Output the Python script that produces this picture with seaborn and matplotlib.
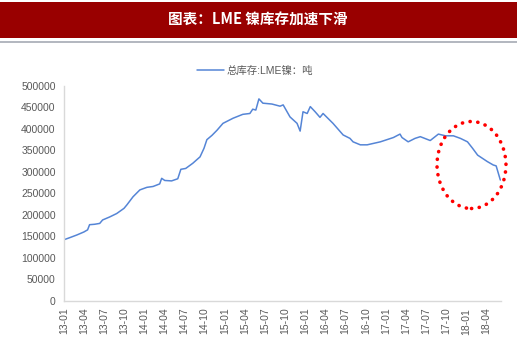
import pandas as pd
import numpy as np
import matplotlib
matplotlib.use('Agg')
import matplotlib.pyplot as plt
import matplotlib.dates as mdates
from matplotlib.patches import Rectangle, Ellipse
import seaborn as sns

# LME nickel total stock (tonnes)
dates = ['2013-01-01', '2013-01-28', '2013-02-28', '2013-04-01', '2013-04-18', '2013-04-27',
         '2013-05-20', '2013-06-12', '2013-06-25', '2013-07-27', '2013-08-28', '2013-09-30',
         '2013-10-13', '2013-11-10', '2013-12-11', '2014-01-12', '2014-02-09', '2014-03-11',
         '2014-03-20', '2014-04-03', '2014-05-04', '2014-06-01', '2014-06-15', '2014-07-07',
         '2014-08-08', '2014-09-10', '2014-09-28', '2014-10-11', '2014-11-03', '2014-11-26',
         '2014-12-23', '2015-02-07', '2015-03-23', '2015-04-24', '2015-05-07', '2015-05-21',
         '2015-06-04', '2015-06-22', '2015-08-02', '2015-09-08', '2015-09-22', '2015-10-23',
         '2015-11-24', '2015-12-08', '2015-12-21', '2016-01-09', '2016-01-23', '2016-02-14',
         '2016-03-07', '2016-03-21', '2016-05-05', '2016-06-20', '2016-07-21', '2016-08-04',
         '2016-09-06', '2016-10-07', '2016-12-06', '2017-02-03', '2017-03-05', '2017-03-14',
         '2017-04-11', '2017-05-12', '2017-06-05', '2017-07-20', '2017-08-26', '2017-09-27',
         '2017-11-02', '2017-12-04', '2018-01-05', '2018-01-28', '2018-02-20', '2018-04-05',
         '2018-05-02', '2018-05-15', '2018-06-03']
stock = [142000, 147000, 153000, 160000, 165000, 177000,
         178000, 180000, 188000, 195000, 203000, 215000,
         223000, 242000, 258000, 264000, 266000, 272000,
         285000, 280000, 279000, 284000, 306000, 308000,
         320000, 335000, 355000, 375000, 385000, 397000,
         413000, 425000, 434000, 436000, 446000, 444000,
         470000, 460000, 458000, 453000, 456000, 428000,
         413000, 395000, 440000, 436000, 452000, 440000,
         427000, 436000, 413000, 386000, 378000, 370000,
         363000, 363000, 370000, 380000, 388000, 380000,
         370000, 378000, 382000, 373000, 388000, 384000,
         384000, 378000, 370000, 355000, 339000, 324000,
         316000, 314000, 281000]
series_name = '总库存:LME镍：吨'
title = '图表：LME 镍库存加速下滑'

df = pd.DataFrame({'date': pd.to_datetime(dates), series_name: stock})

sns.set_style('white')
plt.rcParams['font.family'] = ['Liberation Sans', 'Noto Sans CJK SC', 'DejaVu Sans']

fig = plt.figure(figsize=(5.2, 3.51), dpi=100)
ax = fig.add_axes([64 / 520, 1 - 300.7 / 351, (501 - 64) / 520, (300.7 - 86) / 351])

sns.lineplot(data=df, x='date', y=series_name, ax=ax, color='#5585d6', lw=1.1,
             label=series_name, legend=False)

ax.set_ylim(0, 500000)
ax.set_xlim(pd.Timestamp('2013-01-01'), pd.Timestamp('2018-06-06'))
ax.set_yticks(np.arange(0, 500001, 50000))
ax.xaxis.set_major_locator(mdates.MonthLocator(bymonth=[1, 4, 7, 10]))
ax.xaxis.set_major_formatter(mdates.DateFormatter('%y-%m'))
ax.set_xlabel('')
ax.set_ylabel('')

for s in ['top', 'right']:
    ax.spines[s].set_visible(False)
for s in ['left', 'bottom']:
    ax.spines[s].set_color('#d9d9d9')
    ax.spines[s].set_linewidth(1.0)
ax.tick_params(axis='both', direction='out', length=3, width=0.8, color='#d9d9d9',
               labelcolor='#595959', labelsize=7.5, pad=2)
ax.tick_params(axis='y', pad=3)
ax.tick_params(axis='x', labelrotation=90)
ax.grid(False)

fig.legend(*ax.get_legend_handles_labels(), loc='center', bbox_to_anchor=(255 / 520, 1 - 71 / 351),
           frameon=False, fontsize=7.5, handlelength=2.6, handletextpad=0.3,
           labelcolor='#595959')

# header bar
fig.patches.append(Rectangle((0, 1 - 38 / 351), 517 / 520, 36 / 351, transform=fig.transFigure,
                             facecolor='#990000', edgecolor='none'))
fig.patches.append(Rectangle((0, 1 - 43.3 / 351), 517 / 520, 2.6 / 351, transform=fig.transFigure,
                             facecolor='#b4b8c0', edgecolor='none'))
fig.text(258 / 520, 1 - 20 / 351, title, color='white', fontsize=10.5, fontweight='bold',
         ha='center', va='center', family=['Noto Sans CJK SC', 'DejaVu Sans'])

# red dotted highlight
fig.patches.append(Ellipse((471.5 / 520, 1 - 165 / 351), 69 / 520, 87 / 351,
                           transform=fig.transFigure, fill=False, edgecolor='#ff0000',
                           linewidth=2.6, linestyle=(0, (0.05, 2.1)), capstyle='round'))

fig.savefig('out.png', dpi=100)
